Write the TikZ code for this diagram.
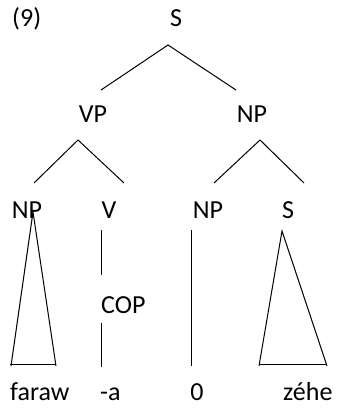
\documentclass[tikz,border=0pt]{standalone}
\usepackage{fontspec}
\setmainfont{Carlito}
\begin{document}
\begin{tikzpicture}[x=1pt,y=-1pt,
  lbl/.style={inner sep=0pt,font=\fontsize{26}{30}\selectfont},
  edge/.style={line width=1pt}]
\useasboundingbox (0,0) rectangle (337,412);
% labels
\node[lbl,anchor=base west] (ex) at (12,27) {(9)};
\node[lbl,anchor=base] (s) at (176,27) {S};
\node[lbl,anchor=base] (vp) at (93,122) {VP};
\node[lbl,anchor=base] (np) at (252,122) {NP};
\node[lbl,anchor=base] (np1) at (27,218) {NP};
\node[lbl,anchor=base] (v) at (109,218) {V};
\node[lbl,anchor=base] (np2) at (208,218) {NP};
\node[lbl,anchor=base] (s2) at (288,218) {S};
\node[lbl,anchor=base west] (cop) at (101,313) {COP};
\node[lbl,anchor=base west] (w1) at (10,400) {faraw};
\node[lbl,anchor=base west] (w2) at (100,400) {-a};
\node[lbl,anchor=base] (w3) at (197,400) {0};
\node[lbl,anchor=base west] (w4) at (283,400) {zéhe};
% branch points
\coordinate (sT) at (168,45);
\coordinate (vpL) at (101,90);
\coordinate (npL) at (236,90);
\coordinate (vpT) at (78,140);
\coordinate (np1B) at (34,183);
\coordinate (vB) at (124,183);
\coordinate (npT) at (260,140);
\coordinate (np2B) at (214,183);
\coordinate (s2B) at (304,183);
% triangles and unary lines
\coordinate (t1) at (33,212);
\coordinate (t1l) at (11,366);
\coordinate (t1r) at (56,366);
\coordinate (t2) at (282,231);
\coordinate (t2l) at (259,366);
\coordinate (t2r) at (327,366);
\coordinate (vA) at (101,230);
\coordinate (vZ) at (101,275);
\coordinate (cA) at (101,323);
\coordinate (cZ) at (101,367);
\coordinate (nA) at (191,230);
\coordinate (nZ) at (191,366);
\draw[edge] (vpL) -- (sT) -- (npL);
\draw[edge] (np1B) -- (vpT) -- (vB);
\draw[edge] (np2B) -- (npT) -- (s2B);
\draw[edge] (t1l) -- (t1) -- (t1r);
\draw[edge] ([xshift=-1pt,yshift=2pt]t1l) -- ([yshift=2pt]t1r);
\draw[edge] (t2l) -- (t2) -- (t2r);
\draw[edge] ([yshift=2pt]t2l) -- ([yshift=2pt]t2r);
\draw[edge] (vA) -- (vZ);
\draw[edge] (cA) -- (cZ);
\draw[edge] (nA) -- (nZ);
\end{tikzpicture}
\end{document}
